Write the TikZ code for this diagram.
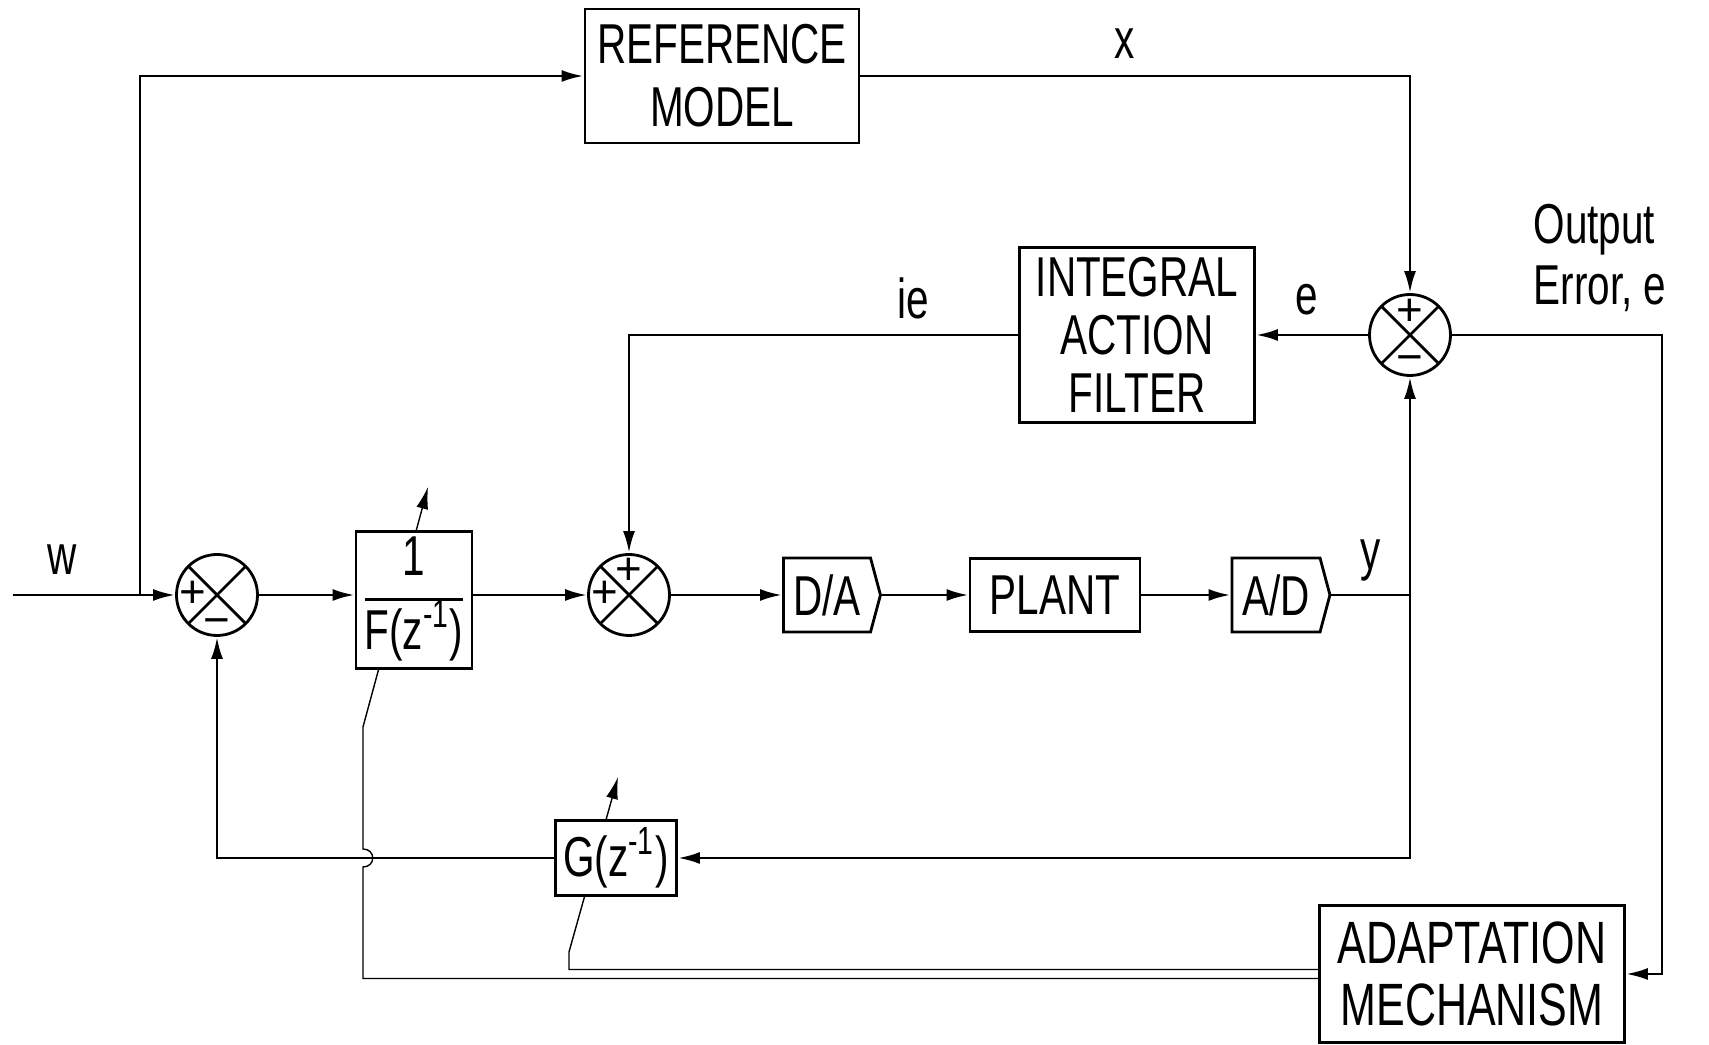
\documentclass[tikz,border=0pt]{standalone}
\usepackage{fontspec}
\setmainfont{Liberation Sans}
\newfontfamily\stencil{Liberation Sans}[FakeStretch=0.72]
\usetikzlibrary{arrows.meta,shapes.symbols,backgrounds}

\begin{document}
\begin{tikzpicture}[x=0.1mm, y=-0.1mm, line width=0.8pt,
    font=\stencil\fontsize{16}{18}\selectfont,
    blockbox/.style={draw, fill=white, inner sep=0pt, align=center},
    convbox/.style={blockbox, signal, signal to=east, signal pointer angle=150},
    summer/.style={draw, fill=white, circle, inner sep=0pt, minimum size=8.1mm,
      path picture={\draw (path picture bounding box.north west) -- (path picture bounding box.south east)
        (path picture bounding box.north east) -- (path picture bounding box.south west);}},
    sig/.style={-{Latex[length=2.2mm, width=1.2mm]}},
    sign/.style={font=\fontsize{13}{13}\selectfont, inner sep=0pt, text height=0.7em, text depth=0pt}]
  \useasboundingbox (0,0) rectangle (1709,1045);

  % blocks
  \node[blockbox, minimum width=27.4mm, minimum height=13.4mm] (refmodel) at (722,76) {REFERENCE\\MODEL};
  \node[blockbox, minimum width=23.5mm, minimum height=17.5mm,
    font=\stencil\fontsize{16}{16.5}\selectfont] (filter) at (1137,335) {INTEGRAL\\ACTION\\FILTER};
  \node[summer] (sumerr) at (1410,335) {};
  \node[summer] (sumin) at (217,595) {};
  \node[blockbox, minimum width=11.6mm, minimum height=12.6mm] (Fbox) at (414,600)
    {\setlength{\arrayrulewidth}{0.8pt}\begin{tabular}{@{}c@{}}1\\[1pt]\hline F(z\textsuperscript{-1})\end{tabular}};
  \node[summer] (sumint) at (629,595) {};
  \node[convbox, minimum width=9.7mm, minimum height=7.4mm] (DA) at (827,595) {D/A};
  \node[blockbox, minimum width=17mm, minimum height=7.3mm] (plant) at (1055,595) {PLANT};
  \node[convbox, minimum width=9.8mm, minimum height=7.4mm] (AD) at (1276,595) {A/D};
  \node[blockbox, minimum width=12.1mm, minimum height=7.5mm] (Gbox) at (616,858) {G(z\textsuperscript{-1})};
  \node[blockbox, minimum width=30.5mm, minimum height=13.7mm,
    font=\stencil\fontsize{17}{17.5}\selectfont] (adapt) at (1472,974) {ADAPTATION\\MECHANISM};

  % summer signs
  \node[sign] at ([xshift=-2.4mm]sumin.center) {+};
  \node[sign] at ([yshift=-2.8mm]sumin.center) {−};
  \node[sign] at ([xshift=-2.4mm]sumint.center) {+};
  \node[sign] at ([yshift=2.3mm]sumint.center) {+};
  \node[sign] at ([yshift=2.2mm]sumerr.center) {+};
  \node[sign] at ([yshift=-2.5mm]sumerr.center) {−};

  % labels
  \node (lw) at (62,560) {w};
  \node (lx) at (1125,44) {x};
  \node (lie) at (913,298) {ie};
  \node (le) at (1307,300) {e};
  \node (ly) at (1371,560) {y};
  \node[align=left, font=\stencil\fontsize{16}{17.3}\selectfont] (lerr) at (1600,258) {Output\\Error, e};

  % signal paths
  \coordinate (win) at (13,595);
  \coordinate (wsplit) at (140,595);
  \coordinate (ysplit) at (1410,595);
  \coordinate (ecorner) at (1662,335);
  \draw[sig] (win) -- (sumin.west);
  \draw[sig] (wsplit) |- (refmodel.west);
  \draw[sig] (refmodel.east) -| (sumerr.north);
  \draw[sig] (sumerr.west) -- (filter.east);
  \draw[sig] (filter.west) -| (sumint.north);
  \draw[sig] (sumin.east) -- (sumin.east -| Fbox.west);
  \draw[sig] (sumint.west -| Fbox.east) -- (sumint.west);
  \draw[sig] (sumint.east) -- (DA.west);
  \draw[sig] (DA.east) -- (plant.west);
  \draw[sig] (plant.east) -- (AD.west);
  \draw (AD.east) -- (ysplit);
  \draw[sig] (ysplit) -- (sumerr.south);
  \draw[sig] (ysplit) |- (Gbox.east);
  \draw[sig] (Gbox.west) -| (sumin.south);
  \draw[sig] (sumerr.east) -- (ecorner) |- (adapt.east);

  % adjustment of the controller polynomials
  \begin{scope}[on background layer]
    \draw[sig] ([yshift=-0.45mm]adapt.west) -| (363,867) .. controls (376,867) and (376,849) .. (363,849)
      -- (363,727) -- (428,487);
    \draw[sig] ([yshift=0.45mm]adapt.west) -| (569,952) -- (618,777);
  \end{scope}
\end{tikzpicture}
\end{document}
